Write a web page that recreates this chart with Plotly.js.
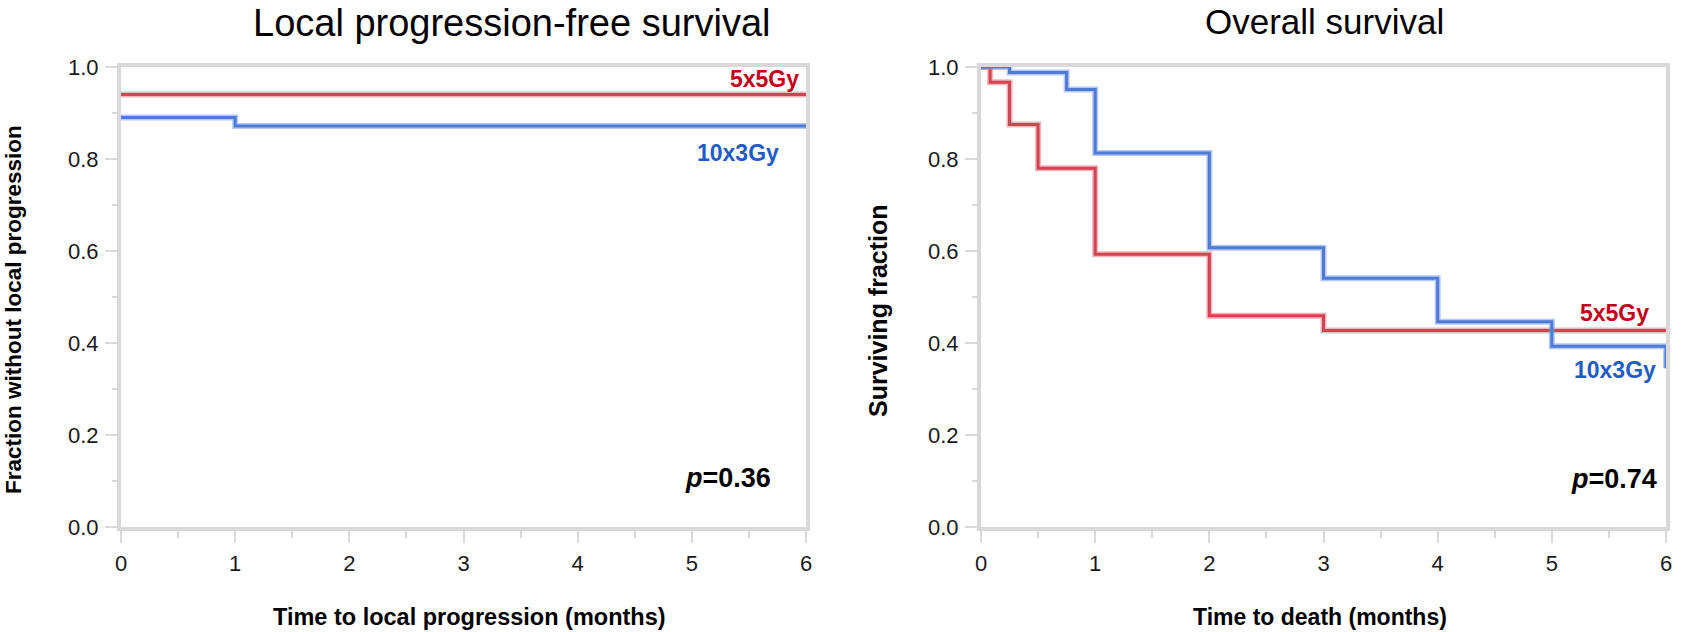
<!DOCTYPE html>
<html>
<head>
<meta charset="utf-8">
<script src="https://cdn.plot.ly/plotly-3.0.1.min.js"></script>
<style>
html,body{margin:0;padding:0;background:#fff;}
#chart{width:1681px;height:632px;}
</style>
</head>
<body>
<div id="chart"></div>
<script>
// ---- Data ----
var lpfsTime5x5 = [0, 6];
var lpfsSurv5x5 = [0.94, 0.94];
var lpfsTime10x3 = [0, 1, 6];
var lpfsSurv10x3 = [0.89, 0.872, 0.872];

var osTime5x5 = [0, 0.08, 0.25, 0.5, 1, 2, 3, 6];
var osSurv5x5 = [1.0, 0.967, 0.875, 0.78, 0.593, 0.459, 0.427, 0.427];
var osTime10x3 = [0, 0.25, 0.75, 1, 2, 3, 4, 5, 6, 6];
var osSurv10x3 = [1.0, 0.988, 0.951, 0.813, 0.607, 0.541, 0.446, 0.393, 0.393, 0.345];

var groupNames = ["5x5Gy", "10x3Gy"];
var panelTitles = ["Local progression-free survival", "Overall survival"];
var xTitles = ["Time to local progression (months)", "Time to death (months)"];
var yTitles = ["Fraction without local progression", "Surviving fraction"];
var pValues = ["0.36", "0.74"];

// ---- Layout helpers (pixel -> paper) ----
var W = 1681, H = 632;
function px(x){ return x / W; }
function py(y){ return 1 - y / H; }

var FONT = "Liberation Sans, Arial, Helvetica, sans-serif";
var redGlow = "rgba(226,120,132,0.55)", redCore = "#d34352";
var blueGlow = "rgba(120,155,230,0.55)", blueCore = "#4f7bd6";
var redText = "#c0001a", blueText = "#1f5cc4";

function stepPair(x, y, xa, ya, glow, core){
  return [
    {x:x, y:y, xaxis:xa, yaxis:ya, type:"scatter", mode:"lines",
     line:{shape:"hv", color:glow, width:6}, hoverinfo:"skip", showlegend:false},
    {x:x, y:y, xaxis:xa, yaxis:ya, type:"scatter", mode:"lines",
     line:{shape:"hv", color:core, width:3}, showlegend:false}
  ];
}

var data = [].concat(
  stepPair(lpfsTime5x5, lpfsSurv5x5, "x", "y", redGlow, redCore),
  stepPair(lpfsTime10x3, lpfsSurv10x3, "x", "y", blueGlow, blueCore),
  stepPair(osTime5x5, osSurv5x5, "x2", "y2", redGlow, redCore),
  stepPair(osTime10x3, osSurv10x3, "x2", "y2", blueGlow, blueCore)
);

var frameColor = "#d9d9d9";
function xAxis(domain, anchor){
  return {domain:domain, anchor:anchor, range:[0,6], dtick:1, tick0:0,
    showline:true, mirror:true, linecolor:frameColor, linewidth:4,
    showgrid:false, zeroline:false, ticks:"outside", ticklen:12, tickwidth:2,
    tickcolor:frameColor, ticklabelstandoff:2,
    minor:{dtick:0.5, ticks:"outside", ticklen:7, tickwidth:2, tickcolor:frameColor, showgrid:false},
    tickfont:{family:FONT, size:22, color:"#1a1a1a"}, fixedrange:true};
}
function yAxis(domain, anchor){
  return {domain:domain, anchor:anchor, range:[0,1], dtick:0.2, tick0:0, tickformat:".1f",
    showline:true, mirror:true, linecolor:frameColor, linewidth:4,
    showgrid:false, zeroline:false, ticks:"outside", ticklen:12, tickwidth:2,
    tickcolor:frameColor, ticklabelstandoff:2,
    minor:{dtick:0.1, ticks:"outside", ticklen:5, tickwidth:2, tickcolor:frameColor, showgrid:false},
    tickfont:{family:FONT, size:22, color:"#1a1a1a"}, fixedrange:true};
}

var yDom = [py(527), py(67)];
var layout = {
  width:W, height:H, margin:{l:0, r:0, t:0, b:0},
  paper_bgcolor:"#fff", plot_bgcolor:"#fff", showlegend:false,
  xaxis: xAxis([px(121), px(806)], "y"),
  yaxis: yAxis(yDom, "x"),
  xaxis2: xAxis([px(981), px(1666)], "y2"),
  yaxis2: yAxis(yDom, "x2"),
  annotations:[
    {text:panelTitles[0], x:px(511), y:py(23), xref:"paper", yref:"paper", showarrow:false,
     xanchor:"center", yanchor:"middle", font:{family:FONT, size:38, color:"#000"}},
    {text:panelTitles[1], x:px(1324), y:py(22), xref:"paper", yref:"paper", showarrow:false,
     xanchor:"center", yanchor:"middle", font:{family:FONT, size:35, color:"#000"}},
    {text:"<b>"+xTitles[0]+"</b>", x:px(470), y:py(617), xref:"paper", yref:"paper", showarrow:false,
     xanchor:"center", yanchor:"middle", font:{family:FONT, size:23.5, color:"#000"}},
    {text:"<b>"+xTitles[1]+"</b>", x:px(1320), y:py(617), xref:"paper", yref:"paper", showarrow:false,
     xanchor:"center", yanchor:"middle", font:{family:FONT, size:23, color:"#000"}},
    {text:"<b>"+yTitles[0]+"</b>", x:px(14), y:py(310), xref:"paper", yref:"paper", showarrow:false,
     textangle:-90, xanchor:"center", yanchor:"middle", font:{family:FONT, size:22.5, color:"#000"}},
    {text:"<b>"+yTitles[1]+"</b>", x:px(878), y:py(310), xref:"paper", yref:"paper", showarrow:false,
     textangle:-90, xanchor:"center", yanchor:"middle", font:{family:FONT, size:25, color:"#000"}},
    {text:"<b>"+groupNames[0]+"</b>", x:px(801), y:py(79), xref:"paper", yref:"paper", showarrow:false,
     xanchor:"right", yanchor:"middle", font:{family:FONT, size:23, color:redText}},
    {text:"<b>"+groupNames[1]+"</b>", x:px(781), y:py(153), xref:"paper", yref:"paper", showarrow:false,
     xanchor:"right", yanchor:"middle", font:{family:FONT, size:23, color:blueText}},
    {text:"<b>"+groupNames[0]+"</b>", x:px(1614), y:py(313), xref:"paper", yref:"paper", showarrow:false,
     xanchor:"center", yanchor:"middle", font:{family:FONT, size:23, color:redText}},
    {text:"<b>"+groupNames[1]+"</b>", x:px(1615), y:py(370), xref:"paper", yref:"paper", showarrow:false,
     xanchor:"center", yanchor:"middle", font:{family:FONT, size:23, color:blueText}},
    {text:"<b><i>p</i>="+pValues[0]+"</b>", x:px(728), y:py(478), xref:"paper", yref:"paper", showarrow:false,
     xanchor:"center", yanchor:"middle", font:{family:FONT, size:27, color:"#000"}},
    {text:"<b><i>p</i>="+pValues[1]+"</b>", x:px(1614), y:py(479), xref:"paper", yref:"paper", showarrow:false,
     xanchor:"center", yanchor:"middle", font:{family:FONT, size:27, color:"#000"}}
  ]
};

Plotly.newPlot("chart", data, layout, {displayModeBar:false, staticPlot:true});
</script>
</body>
</html>
